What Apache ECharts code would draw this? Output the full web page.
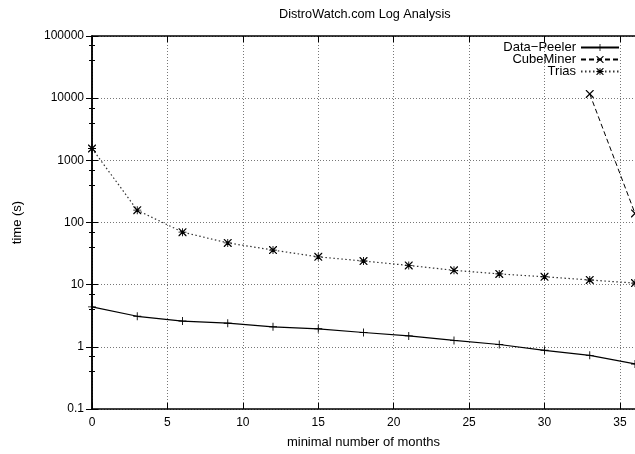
<!DOCTYPE html>
<html><head><meta charset="utf-8">
<script src="https://cdn.jsdelivr.net/npm/echarts@6/dist/echarts.min.js"></script>
<style>html,body{margin:0;padding:0;background:#fff}#c{width:635px;height:454px}</style>
</head><body><div id="c"></div>
<script>
var months = [0, 3, 6, 9, 12, 15, 18, 21, 24, 27, 30, 33, 36];
var dataPeeler = [4.4, 3.1, 2.6, 2.4, 2.1, 1.95, 1.7, 1.5, 1.27, 1.09, 0.88, 0.73, 0.53];
var trias = [1550, 158, 70, 47, 36, 28, 24, 20.4, 17, 14.9, 13.4, 11.9, 10.6];
var cubeMinerMonths = [33, 36];
var cubeMiner = [11700, 140];
var seriesNames = ['Data\u2212Peeler', 'CubeMiner', 'Trias'];
var title = 'DistroWatch.com Log Analysis';
var xName = 'minimal number of months';
var yName = 'time (s)';

function pairs(xs, ys) { return xs.map(function (x, i) { return [x, ys[i]]; }); }

var FONT = 'Liberation Sans, Arial, sans-serif';
var plusSym = 'path://M4,0h1v9h-1zM0,4h9v1h-9z';
var crossSym = 'path://M0,0L1,0L9,8L9,9L8,9L0,1ZM8,0L9,0L9,1L1,9L0,9L0,8Z';
var starSym = 'path://M4,0h1v9h-1zM0,4h9v1h-9zM0,0L1,0L9,8L9,9L8,9L0,1ZM8,0L9,0L9,1L1,9L0,9L0,8Z';

var grid = { left: 92, right: -2, top: 36, bottom: 37 };
var gridLine = { show: true, lineStyle: { color: '#777', type: [1, 2], width: 1 } };
var axisLine = { show: true, lineStyle: { color: '#000', width: 1.5 } };

function legendItem(name, top) {
  return {
    data: [name], right: 15, top: top, orient: 'vertical', align: 'right',
    itemWidth: 38, itemHeight: 9, padding: 0, selectedMode: false,
    textStyle: { fontFamily: FONT, fontSize: 13, color: '#000' }
  };
}

var chart = echarts.init(document.getElementById('c'), null, { renderer: 'canvas' });
chart.setOption({
  animation: false,
  backgroundColor: '#fff',
  title: { text: title, left: 274, top: 3, textStyle: { fontFamily: FONT, fontSize: 12.7, fontWeight: 'normal', color: '#000' } },
  legend: [legendItem(seriesNames[0], 41), legendItem(seriesNames[1], 53), legendItem(seriesNames[2], 65)],
  grid: grid,
  xAxis: [{
    type: 'value', min: 0, max: 36, interval: 5, position: 'bottom',
    name: xName, nameLocation: 'middle', nameGap: 27,
    nameTextStyle: { fontFamily: FONT, fontSize: 13, color: '#000' },
    axisLine: axisLine,
    axisTick: { show: true, inside: true, length: 6, lineStyle: { color: '#000' } },
    axisLabel: { fontFamily: FONT, fontSize: 12, color: '#000', margin: 8, showMaxLabel: false },
    splitLine: gridLine
  }, {
    type: 'value', min: 0, max: 36, interval: 5, position: 'top',
    axisLine: axisLine,
    axisTick: { show: true, inside: true, length: 6, lineStyle: { color: '#000' } },
    axisLabel: { show: false }, splitLine: { show: false }
  }],
  yAxis: [{
    type: 'log', logBase: 10, min: 0.1, max: 100000, position: 'left',
    name: yName, nameLocation: 'middle', nameGap: 68, nameRotate: 90,
    nameTextStyle: { fontFamily: FONT, fontSize: 13, color: '#000' },
    axisLine: axisLine,
    axisTick: { show: true, inside: true, length: 6, lineStyle: { color: '#000' } },
    minorTick: { show: true, splitNumber: 3, length: 3, lineStyle: { color: '#000' } },
    axisLabel: { fontFamily: FONT, fontSize: 12, color: '#000', margin: 8, formatter: function (v) { return String(+v.toPrecision(6)); } },
    splitLine: gridLine
  }, {
    type: 'log', logBase: 10, min: 0.1, max: 100000, position: 'right',
    axisLine: axisLine,
    axisTick: { show: true, inside: true, length: 6, lineStyle: { color: '#000' } },
    minorTick: { show: true, splitNumber: 3, length: 3, lineStyle: { color: '#000' } },
    axisLabel: { show: false }, splitLine: { show: false }
  }],
  series: [{
    name: seriesNames[0], type: 'line', data: pairs(months, dataPeeler),
    symbol: plusSym, symbolSize: 8, showAllSymbol: true,
    lineStyle: { color: '#000', width: 1.2, type: 'solid' },
    itemStyle: { color: '#000' }
  }, {
    name: seriesNames[1], type: 'line', data: pairs(cubeMinerMonths, cubeMiner),
    symbol: crossSym, symbolSize: 8,
    lineStyle: { color: '#000', width: 1, type: [5, 3] },
    itemStyle: { color: '#000' }
  }, {
    name: seriesNames[2], type: 'line', data: pairs(months, trias),
    symbol: starSym, symbolSize: 8, showAllSymbol: true,
    lineStyle: { color: '#333', width: 1.2, type: [1.5, 2.5] },
    itemStyle: { color: '#000' }
  }]
});
</script></body></html>
